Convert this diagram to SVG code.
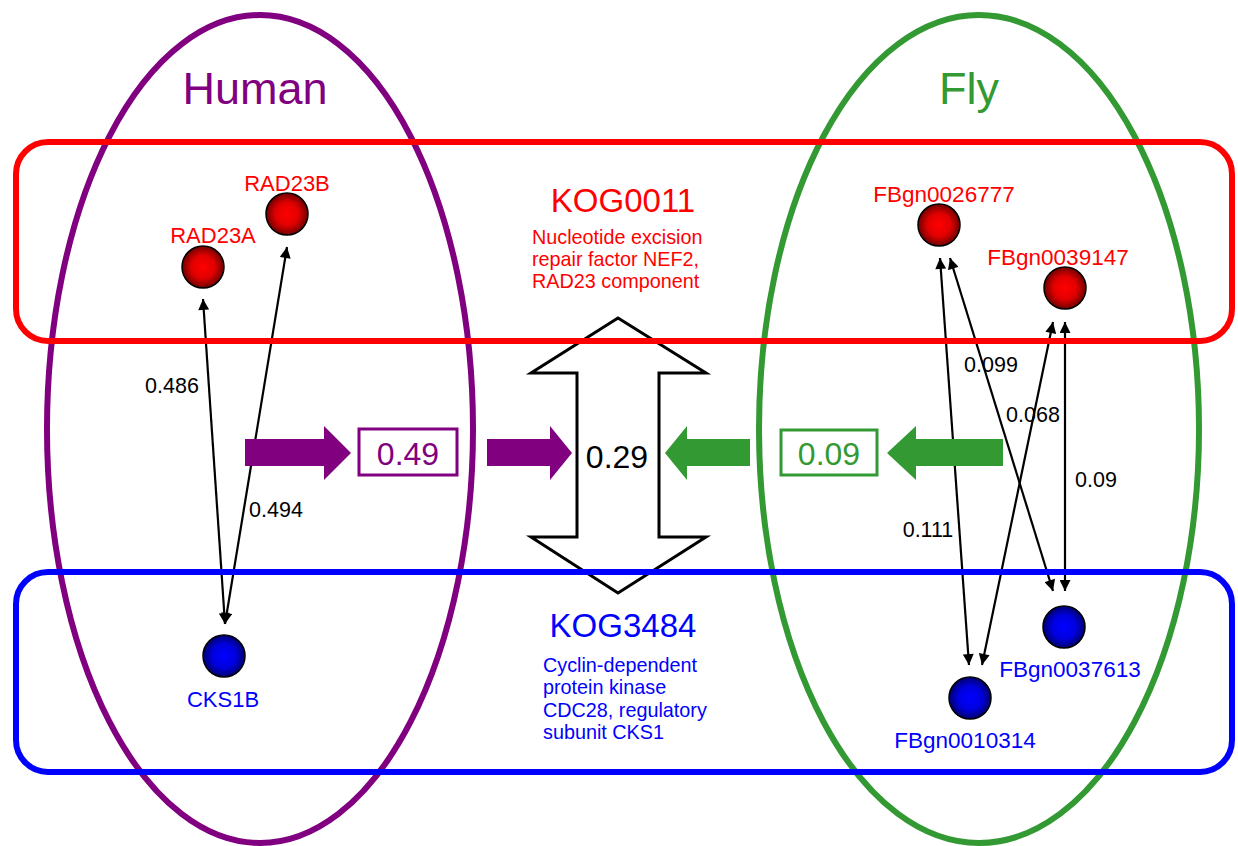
<svg xmlns="http://www.w3.org/2000/svg" width="1238" height="846" viewBox="0 0 1238 846">
<style>
text{font-family:"Liberation Sans",Arial,sans-serif}
.lbl{font-size:22px;text-anchor:middle}
.fl{font-size:22.5px}
.red{fill:#ff0000}
.blue{fill:#0000ff}
.edge{stroke:#000;stroke-width:2.2;fill:none;marker-start:url(#ah);marker-end:url(#ah)}
.elab{font-size:21.5px;fill:#000;text-anchor:middle}
.desc{font-size:19.8px}
.big{font-size:33px;text-anchor:middle}
.val{font-size:32px;text-anchor:middle}
.rn{fill:url(#gr);stroke:#000;stroke-width:1.5}
.bn{fill:url(#gb);stroke:#000;stroke-width:1.5}
</style>
<defs>
<radialGradient id="gr" cx="50%" cy="50%" r="50%">
<stop offset="0" stop-color="#ff0000"/>
<stop offset="0.55" stop-color="#e00000"/>
<stop offset="1" stop-color="#700000"/>
</radialGradient>
<radialGradient id="gb" cx="50%" cy="50%" r="50%">
<stop offset="0" stop-color="#0000ff"/>
<stop offset="0.55" stop-color="#0000e0"/>
<stop offset="1" stop-color="#000070"/>
</radialGradient>
<marker id="ah" viewBox="0 0 10 10" refX="10" refY="5" markerWidth="12" markerHeight="11" markerUnits="userSpaceOnUse" orient="auto-start-reverse">
<path d="M0,0 L10,5 L0,10 Z" fill="#000"/>
</marker>
</defs>
<rect width="1238" height="846" fill="#fff"/>

<g id="species">
<ellipse cx="260" cy="429" rx="213" ry="414" fill="none" stroke="#800080" stroke-width="6"/>
<ellipse cx="979" cy="429" rx="220" ry="414" fill="none" stroke="#339933" stroke-width="6"/>
<text x="255" y="104" font-size="45" text-anchor="middle" fill="#800080">Human</text>
<text x="969" y="104" font-size="45" text-anchor="middle" fill="#339933">Fly</text>
</g>

<g id="connectors">
<line class="edge" x1="203" y1="299" x2="225" y2="624"/>
<line class="edge" x1="287" y1="247" x2="225" y2="624"/>
<line class="edge" x1="940" y1="258" x2="969" y2="665"/>
<line class="edge" x1="950" y1="258" x2="1053" y2="591"/>
<line class="edge" x1="1053" y1="322" x2="982" y2="665"/>
<line class="edge" x1="1065" y1="322" x2="1065" y2="591"/>
<text class="elab" x="172" y="393">0.486</text>
<text class="elab" x="276" y="517">0.494</text>
<text class="elab" x="991" y="372">0.099</text>
<text class="elab" x="1033" y="422">0.068</text>
<text class="elab" x="1096" y="487">0.09</text>
<text class="elab" x="928" y="537">0.111</text>
</g>

<g id="flow">
<path d="M245,439 L324,439 L324,426 L351,453 L324,480 L324,466 L245,466 Z" fill="#800080"/>
<rect x="359" y="429" width="98" height="46" fill="#fff" stroke="#800080" stroke-width="3"/>
<text class="val" x="408" y="465" fill="#800080">0.49</text>
<path d="M487,439 L550,439 L550,426 L572,453 L550,480 L550,466 L487,466 Z" fill="#800080"/>
<path d="M750,439 L687,439 L687,426 L665,453 L687,480 L687,466 L750,466 Z" fill="#339933"/>
<rect x="781" y="430" width="96" height="45" fill="#fff" stroke="#339933" stroke-width="3"/>
<text class="val" x="829" y="465" fill="#339933">0.09</text>
<path d="M1003,439 L916,439 L916,426 L887,453 L916,480 L916,466 L1003,466 Z" fill="#339933"/>
<path d="M618,318 L706,373 L659,373 L659,537 L706,537 L618,593 L531,537 L577,537 L577,373 L531,373 Z" fill="#fff" stroke="#000" stroke-width="3" stroke-linejoin="miter"/>
<text class="val" x="617" y="468" fill="#000">0.29</text>
</g>

<g id="RAD23A"><circle class="rn" cx="203" cy="267" r="21"/><text class="lbl red" x="213" y="243">RAD23A</text></g>
<g id="RAD23B"><circle class="rn" cx="287" cy="214" r="21"/><text class="lbl red" x="287" y="191">RAD23B</text></g>
<g id="CKS1B"><circle class="bn" cx="224" cy="656" r="21"/><text class="lbl blue" x="223" y="707">CKS1B</text></g>
<g id="FBgn0026777"><circle class="rn" cx="939" cy="225" r="21"/><text class="lbl fl red" x="944" y="202">FBgn0026777</text></g>
<g id="FBgn0039147"><circle class="rn" cx="1065" cy="288" r="21"/><text class="lbl fl red" x="1058" y="265">FBgn0039147</text></g>
<g id="FBgn0037613"><circle class="bn" cx="1064" cy="627" r="21"/><text class="lbl fl blue" x="1070" y="677">FBgn0037613</text></g>
<g id="FBgn0010314"><circle class="bn" cx="970" cy="698" r="21"/><text class="lbl fl blue" x="965" y="748">FBgn0010314</text></g>

<g id="KOG0011">
<rect x="16" y="142" width="1216" height="199" rx="32" fill="none" stroke="#ff0000" stroke-width="6"/>
<text class="big red" x="623" y="212">KOG0011</text>
<text class="desc red" x="532" y="244">Nucleotide excision</text>
<text class="desc red" x="532" y="266">repair factor NEF2,</text>
<text class="desc red" x="532" y="288">RAD23 component</text>
</g>
<g id="KOG3484">
<rect x="16" y="572" width="1216" height="200" rx="32" fill="none" stroke="#0000ff" stroke-width="6"/>
<text class="big blue" x="623" y="637">KOG3484</text>
<text class="desc blue" x="543" y="672">Cyclin-dependent</text>
<text class="desc blue" x="543" y="694">protein kinase</text>
<text class="desc blue" x="543" y="717">CDC28, regulatory</text>
<text class="desc blue" x="543" y="739">subunit CKS1</text>
</g>
</svg>
